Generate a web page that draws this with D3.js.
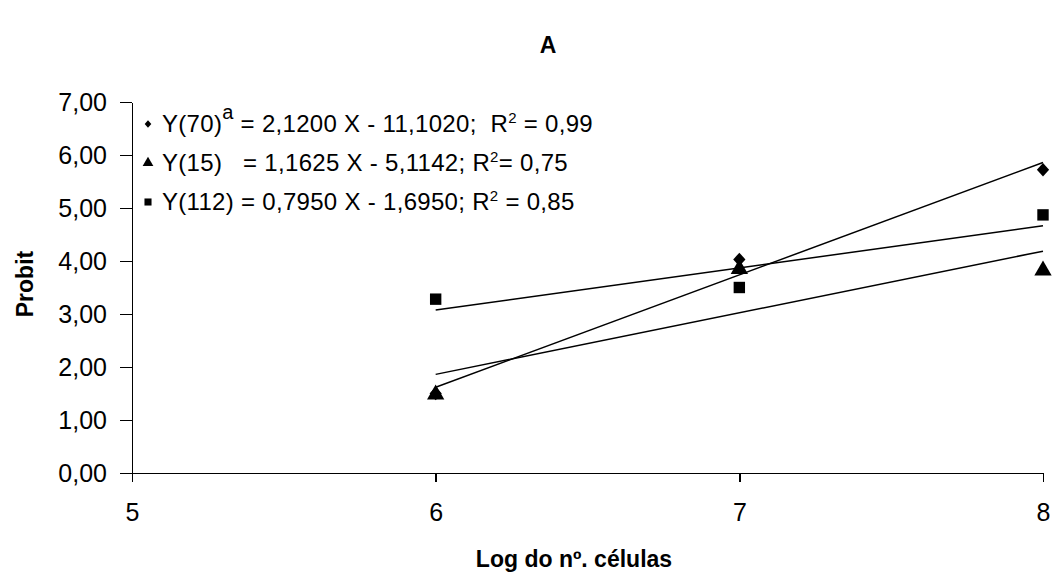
<!DOCTYPE html>
<head>
  <meta charset="utf-8">
  <title>Probit</title>
</head>
<style>
  body { margin: 0; background: #fff; }
  svg text { font-family: "Liberation Sans", Arial, sans-serif; fill: #000; }
  .axis path, .axis line { stroke: #000; stroke-width: 1.5; shape-rendering: crispEdges; }
  .axis text { font-size: 25px; }
  .title { font-weight: bold; font-size: 23px; }
  .legend text { font-size: 24px; white-space: pre; letter-spacing: 0.3px; }
</style>
<svg width="1053" height="575"></svg>
<script src="https://d3js.org/d3.v7.min.js"></script>
<script>
  // data
  var xs = [6, 7, 8];
  var y70 = [1.50, 4.03, 5.72];
  var y15 = [1.48, 3.85, 3.82];
  var y112 = [3.28, 3.50, 4.87];
  var slopes = [2.1200, 1.1625, 0.7950];
  var intercepts = [-11.1020, -5.1142, -1.6950];
  var xTicks = [5, 6, 7, 8];
  var yTicks = [0, 1, 2, 3, 4, 5, 6, 7];

  // squat diamond, closer to the spreadsheet marker than d3's tall one
  var diamond = {
    draw: function (ctx, size) {
      var r = Math.sqrt(size / 2);
      ctx.moveTo(0, -r * 1.1);
      ctx.lineTo(r, 0);
      ctx.lineTo(0, r * 1.1);
      ctx.lineTo(-r, 0);
      ctx.closePath();
    }
  };

  var series = [
    { name: "Y(70)", sup: "a", values: y70, shape: diamond, eq: " = 2,1200 X - 11,1020;  R", r2: " = 0,99" },
    { name: "Y(15)", sup: "", values: y15, shape: d3.symbolTriangle, eq: "   = 1,1625 X - 5,1142; R", r2: "= 0,75" },
    { name: "Y(112)", sup: "", values: y112, shape: d3.symbolSquare, eq: " = 0,7950 X - 1,6950; R", r2: " = 0,85" }
  ];

  var svg = d3.select("svg");
  var x = d3.scaleLinear().domain([5, 8]).range([132, 1043]);
  var y = d3.scaleLinear().domain([0, 7]).range([473, 102]);
  var fmt = function (d) { return d3.format(".2f")(d).replace(".", ","); };

  svg.append("g")
    .attr("class", "axis")
    .attr("transform", "translate(0,473)")
    .call(d3.axisBottom(x).tickValues(xTicks).tickSize(9).tickSizeOuter(0).tickPadding(21).tickFormat(d3.format("d")));

  svg.append("g")
    .attr("class", "axis")
    .attr("transform", "translate(132,0)")
    .call(d3.axisLeft(y).tickValues(yTicks).tickSize(12).tickSizeOuter(0).tickPadding(13).tickFormat(fmt));

  svg.selectAll(".axis .domain").attr("stroke-width", 2);

  // trend lines from the fitted equations
  var line = d3.line().x(function (d) { return x(d[0]); }).y(function (d) { return y(d[1]); });
  series.forEach(function (s, i) {
    var pts = [6, 8].map(function (v) { return [v, slopes[i] * v + intercepts[i]]; });
    svg.append("path")
      .attr("d", line(pts))
      .attr("fill", "none")
      .attr("stroke", "#000")
      .attr("stroke-width", 1.5);
  });

  // markers (triangles under, then squares, diamonds on top)
  [series[1], series[2], series[0]].forEach(function (s) {
    svg.selectAll(null)
      .data(s.values)
      .enter().append("path")
      .attr("transform", function (d, j) { return "translate(" + x(xs[j]) + "," + y(d) + ")"; })
      .attr("d", d3.symbol().type(s.shape).size(s.shape === diamond ? 75 : 130))
      .attr("fill", "#000");
  });

  // legend
  var legend = svg.append("g").attr("class", "legend");
  series.forEach(function (s, i) {
    var ly = 132 + i * 39;
    legend.append("path")
      .attr("transform", "translate(148," + (ly - 8) + ")")
      .attr("d", d3.symbol().type(s.shape).size(s.shape === diamond ? 22 : 50))
      .attr("fill", "#000");
    var t = legend.append("text").attr("x", 162).attr("y", ly);
    t.append("tspan").text(s.name);
    if (s.sup) t.append("tspan").attr("dy", -13).attr("font-size", 20).text(s.sup);
    t.append("tspan").attr("dy", s.sup ? 13 : 0).text(s.eq);
    t.append("tspan").attr("dy", -9).attr("font-size", 15).text("2");
    t.append("tspan").attr("dy", 9).text(s.r2);
  });

  // titles
  svg.append("text").attr("class", "title").attr("x", 548).attr("y", 53)
    .attr("text-anchor", "middle").text("A");
  svg.append("text").attr("class", "title").attr("x", 574).attr("y", 567)
    .attr("text-anchor", "middle").text("Log do nº. células");
  svg.append("text").attr("class", "title")
    .attr("font-size", 27)
    .attr("transform", "translate(33,284) rotate(-90)")
    .attr("text-anchor", "middle").text("Probit");
</script>
